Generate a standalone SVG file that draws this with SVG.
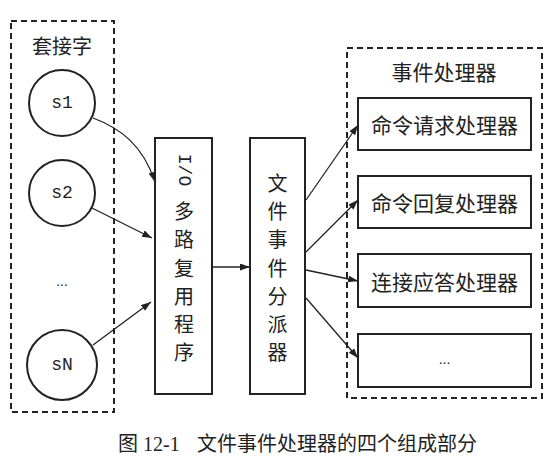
<svg xmlns="http://www.w3.org/2000/svg" width="560" height="475" viewBox="0 0 560 475">
<defs>
<marker id="arr" markerUnits="userSpaceOnUse" markerWidth="11" markerHeight="8" refX="10" refY="3.5" orient="auto">
<path d="M0,0 L10,3.5 L0,7 z" fill="#222"/>
</marker>
<style>
.dash{fill:none;stroke:#222;stroke-width:2;stroke-dasharray:6 4}
.box{fill:#fff;stroke:#222;stroke-width:2}
.cj{font-family:"Noto Sans CJK SC",sans-serif;font-size:20px;fill:#222;text-anchor:middle;dominant-baseline:central}
.hl{font-size:21px}
.mono{font-family:"Liberation Mono",monospace;font-size:18px;fill:#222;text-anchor:middle;dominant-baseline:central}
.con{fill:none;stroke:#222;stroke-width:1.3;marker-end:url(#arr)}
</style>
</defs>
<rect width="560" height="475" fill="#fff"/>
<g id="sockets">
<rect class="dash" x="11" y="21" width="103" height="391"/>
<text class="cj" x="62" y="45">套接字</text>
</g>
<g id="s1"><circle class="box" cx="62" cy="103" r="33"/><text class="mono" x="62" y="103">s1</text></g>
<g id="s2"><circle class="box" cx="62" cy="193" r="33"/><text class="mono" x="62" y="193">s2</text></g>
<g id="dots"><text x="62" y="286" font-family="Liberation Sans,sans-serif" font-size="14" fill="#222" text-anchor="middle">...</text></g>
<g id="sN"><circle class="box" cx="62" cy="365" r="35"/><text class="mono" x="62" y="365">sN</text></g>
<g id="multiplexer">
<rect class="box" x="155" y="138" width="57" height="256"/>
<text class="mono" x="0" y="0" transform="translate(184,170) rotate(90)">I/O</text>
<text class="cj" x="184" y="210">多</text>
<text class="cj" x="184" y="238">路</text>
<text class="cj" x="184" y="267">复</text>
<text class="cj" x="184" y="295">用</text>
<text class="cj" x="184" y="323">程</text>
<text class="cj" x="184" y="351">序</text>
</g>
<g id="dispatcher">
<rect class="box" x="250" y="138" width="55" height="256"/>
<text class="cj" x="277.5" y="182">文</text>
<text class="cj" x="277.5" y="210">件</text>
<text class="cj" x="277.5" y="238">事</text>
<text class="cj" x="277.5" y="267">件</text>
<text class="cj" x="277.5" y="295">分</text>
<text class="cj" x="277.5" y="323">派</text>
<text class="cj" x="277.5" y="351">器</text>
</g>
<g id="handlers">
<rect class="dash" x="347" y="48" width="195" height="350"/>
<text class="cj hl" x="444" y="71">事件处理器</text>
</g>
<g id="h1"><rect class="box" x="358" y="98" width="173" height="52"/><text class="cj hl" x="444.5" y="124">命令请求处理器</text></g>
<g id="h2"><rect class="box" x="358" y="176" width="173" height="52"/><text class="cj hl" x="444.5" y="202">命令回复处理器</text></g>
<g id="h3"><rect class="box" x="358" y="254" width="173" height="53"/><text class="cj hl" x="444.5" y="280.5">连接应答处理器</text></g>
<g id="h4"><rect class="box" x="358" y="334" width="173" height="53"/><text x="444.5" y="364" font-family="Liberation Sans,sans-serif" font-size="14" fill="#222" text-anchor="middle">...</text></g>
<g id="connectors">
<path class="con" d="M93,118 C120,128 143,145 155,182"/>
<path class="con" d="M92,208 L152,238"/>
<path class="con" d="M93,345 L151,302"/>
<path class="con" d="M212,267 L250,267"/>
<path class="con" d="M306,200 L358,125"/>
<path class="con" d="M306,252 L358,200"/>
<path class="con" d="M306,270 L358,281"/>
<path class="con" d="M306,298 L358,358"/>
</g>
<g id="caption" fill="#222" font-size="20">
<text x="118" y="451" font-family="Noto Sans CJK SC,sans-serif">图</text>
<text x="143" y="451" font-family="Liberation Serif,serif">12-1</text>
<text x="197" y="451" font-family="Noto Sans CJK SC,sans-serif">文件事件处理器的四个组成部分</text>
</g>
</svg>
